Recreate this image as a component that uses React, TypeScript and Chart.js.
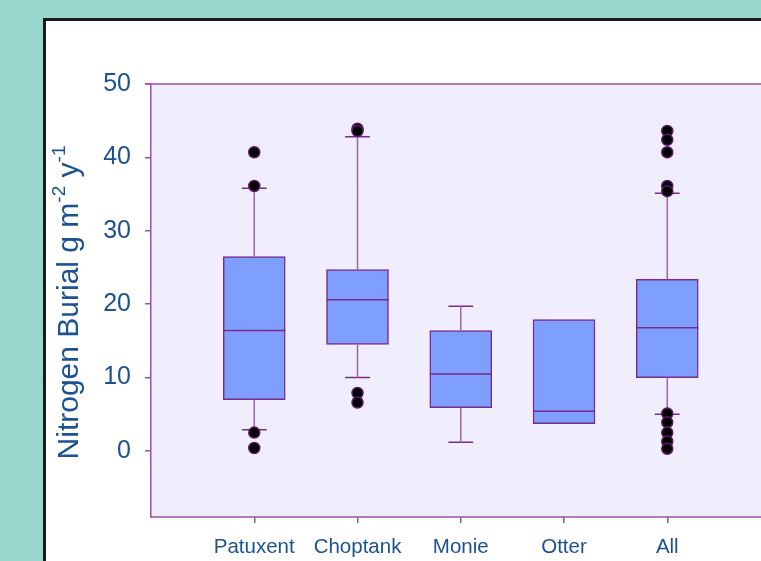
import React, { useEffect, useRef } from "react";
import { Chart, registerables } from "chart.js";

Chart.register(...registerables);

const categories = ["Patuxent", "Choptank", "Monie", "Otter", "All"];
const lowerWhisker = [2.9, 10.0, 1.2, 3.7, 5.0];
const q1 = [7.0, 14.5, 5.9, 3.7, 10.0];
const median = [16.4, 20.6, 10.5, 5.4, 16.8];
const q3 = [26.5, 24.7, 16.4, 17.9, 23.4];
const upperWhisker = [35.8, 42.8, 19.7, 17.9, 35.1];
const outliers: number[][] = [
  [40.7, 36.1, 2.5, 0.4],
  [43.9, 43.6, 7.9, 6.6],
  [],
  [],
  [43.6, 42.4, 40.7, 36.1, 35.4, 5.1, 3.9, 2.5, 1.3, 0.3],
];
const yTicks = [0, 10, 20, 30, 40, 50];

const TEXT = "#1b5291";
const PURPLE = "#7a2a88";
const WHISKER = "#a066ad";
const AXIS = "#9b4fa6";
const FONT = "'Liberation Sans', Arial, sans-serif";

export default function App() {
  const ref = useRef<HTMLCanvasElement | null>(null);

  useEffect(() => {
    if (!ref.current) return;
    const xs = categories.map((_, i) => i + 1);
    const half = 0.3;
    const capHalf = 0.12;

    const medianPts: any[] = [];
    const whiskerPts: any[] = [];
    const capPts: any[] = [];
    xs.forEach((x, i) => {
      medianPts.push({ x: x - half, y: median[i] }, { x: x + half, y: median[i] }, { x: x, y: null });
      if (upperWhisker[i] > q3[i]) {
        whiskerPts.push({ x, y: q3[i] }, { x, y: upperWhisker[i] }, { x, y: null });
        capPts.push({ x: x - capHalf, y: upperWhisker[i] }, { x: x + capHalf, y: upperWhisker[i] }, { x, y: null });
      }
      if (lowerWhisker[i] < q1[i]) {
        whiskerPts.push({ x, y: q1[i] }, { x, y: lowerWhisker[i] }, { x, y: null });
        capPts.push({ x: x - capHalf, y: lowerWhisker[i] }, { x: x + capHalf, y: lowerWhisker[i] }, { x, y: null });
      }
    });
    const outlierPts: any[] = [];
    outliers.forEach((arr, i) => arr.forEach((v) => outlierPts.push({ x: i + 1, y: v })));

    const bgPlugin = {
      id: "bgPlugin",
      beforeDraw(chart: any) {
        const { ctx, chartArea, width, height } = chart;
        ctx.save();
        ctx.fillStyle = "#97d5cd";
        ctx.fillRect(0, 0, width, height);
        ctx.fillStyle = "#ffffff";
        ctx.fillRect(43, 18, width, height);
        ctx.strokeStyle = "#1a1a1a";
        ctx.lineWidth = 3;
        ctx.beginPath();
        ctx.moveTo(44.5, height + 5);
        ctx.lineTo(44.5, 19.5);
        ctx.lineTo(width + 5, 19.5);
        ctx.stroke();
        ctx.fillStyle = "#f0eefc";
        ctx.fillRect(chartArea.left, chartArea.top, width - chartArea.left, chartArea.bottom - chartArea.top);
        ctx.strokeStyle = AXIS;
        ctx.lineWidth = 1.5;
        ctx.beginPath();
        ctx.moveTo(chartArea.left - 6, chartArea.top);
        ctx.lineTo(width + 2, chartArea.top);
        ctx.moveTo(chartArea.left - 0.75, chartArea.bottom);
        ctx.lineTo(width + 2, chartArea.bottom);
        ctx.stroke();
        ctx.restore();
      },
      afterDraw(chart: any) {
        const { ctx, chartArea } = chart;
        const cy = (chartArea.top + chartArea.bottom) / 2 + 2;
        const cx = 70;
        const main = `30px ${FONT}`;
        const sup = `19px ${FONT}`;
        const parts: [string, boolean][] = [
          ["Nitrogen Burial g m", false],
          ["-2", true],
          [" y", false],
          ["-1", true],
        ];
        ctx.save();
        let total = 0;
        const widths = parts.map(([t, s]) => {
          ctx.font = s ? sup : main;
          const w = ctx.measureText(t).width;
          total += w;
          return w;
        });
        ctx.translate(cx, cy);
        ctx.rotate(-Math.PI / 2);
        ctx.fillStyle = TEXT;
        ctx.textBaseline = "middle";
        ctx.textAlign = "left";
        let x = -total / 2;
        parts.forEach(([t, s], i) => {
          ctx.font = s ? sup : main;
          ctx.fillText(t, x, s ? -10 : 0);
          x += widths[i];
        });
        ctx.restore();
      },
    };

    const chart = new Chart(ref.current, {
      type: "bar",
      data: {
        datasets: [
          {
            type: "bar",
            data: xs.map((x, i) => ({ x, y: [q1[i], q3[i]] })) as any,
            backgroundColor: "#7f9fff",
            borderColor: PURPLE,
            borderWidth: 1.5,
            borderSkipped: false,
            barThickness: 62,
            order: 3,
          } as any,
          {
            type: "line",
            data: whiskerPts,
            borderColor: WHISKER,
            borderWidth: 1.5,
            pointRadius: 0,
            spanGaps: false,
            order: 2,
          },
          {
            type: "line",
            data: capPts,
            borderColor: PURPLE,
            borderWidth: 1.5,
            pointRadius: 0,
            spanGaps: false,
            order: 2,
          },
          {
            type: "line",
            data: medianPts,
            borderColor: PURPLE,
            borderWidth: 1.5,
            pointRadius: 0,
            spanGaps: false,
            order: 1,
          },
          {
            type: "scatter",
            data: outlierPts,
            backgroundColor: "#000000",
            borderColor: "#5a1a6a",
            borderWidth: 1.5,
            pointRadius: 5.5,
            order: 0,
          },
        ],
      },
      options: {
        animation: false,
        responsive: false,
        maintainAspectRatio: false,
        layout: { padding: { left: 0, top: 84, right: 0, bottom: 0 } },
        plugins: { legend: { display: false }, tooltip: { enabled: false }, title: { display: false } },
        scales: {
          x: {
            type: "linear",
            min: 0,
            max: 5.84,
            offset: false,
            grid: { drawOnChartArea: false, offset: false, color: AXIS, tickLength: 6, lineWidth: 1.5 },
            border: { display: false },
            afterBuildTicks: (scale: any) => {
              scale.ticks = xs.map((v) => ({ value: v }));
            },
            afterFit: (scale: any) => {
              scale.height = 44;
              scale.paddingLeft = 0;
              scale.paddingRight = 0;
            },
            ticks: {
              color: TEXT,
              font: { family: FONT, size: 20.5 },
              padding: 12,
              maxRotation: 0,
              autoSkip: false,
              callback: (v: any) => categories[Number(v) - 1] ?? "",
            },
          },
          y: {
            type: "linear",
            min: -9,
            max: 50,
            grid: { drawOnChartArea: false, color: AXIS, tickLength: 6, lineWidth: 1.5 },
            border: { color: AXIS, width: 1.5 },
            afterBuildTicks: (scale: any) => {
              scale.ticks = yTicks.map((v) => ({ value: v }));
            },
            afterFit: (scale: any) => {
              scale.width = 151;
              scale.paddingTop = 0;
              scale.paddingBottom = 0;
            },
            ticks: {
              color: TEXT,
              font: { family: FONT, size: 25 },
              padding: 14,
            },
          },
        },
      } as any,
      plugins: [bgPlugin],
    });
    return () => chart.destroy();
  }, []);

  return (
    <div style={{ position: "fixed", left: 0, top: 0, width: 761, height: 561 }}>
      <canvas ref={ref} width={761} height={561} style={{ display: "block", width: 761, height: 561 }} />
    </div>
  );
}
